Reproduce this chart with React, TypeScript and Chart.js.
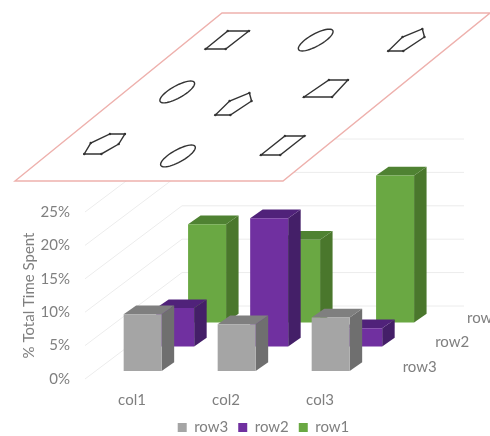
import React, { useEffect, useRef } from "react";
import { Chart, registerables } from "chart.js";

Chart.register(...registerables);

const columns = ["col1", "col2", "col3"];
const row3Values = [8.5, 7, 8];
const row2Values = [5.75, 19.2, 2.75];
const row1Values = [14.7, 12.4, 22];
const rowNames = ["row3", "row2", "row1"];
const rowDepths = [0.11, 0.445, 0.774];

const frontColors = ["#a5a5a5", "#7030a0", "#6aa843"];
const topColors = ["#7f7f7f", "#50227a", "#4f8232"];
const sideColors = ["#6f6f6f", "#441f68", "#4a772c"];

const TEXT = "#7f7f7f";
const FONT = "Lato, 'Open Sans', sans-serif";
const WALL_DX = 97;
const WALL_DY = 73;
const BOX_DX = 12.5;
const BOX_DY = 8.7;

// Sheet floating above the chart: corners, then glyphs in sheet units (u along, v up).
const sheetBL = [15, 181];
const sheetBR = [283, 181];
const sheetTL = [222, 13];

const glyphKinds = ["quad", "ring", "arrow", "ring", "arrow", "wide", "hex", "ring", "quad2"];
const glyphU = [0.143, 0.474, 0.82, 0.196, 0.469, 0.745, 0.16, 0.493, 0.835];
const glyphV = [0.84, 0.839, 0.83, 0.53, 0.449, 0.55, 0.22, 0.149, 0.21];

const outlines: Record<string, number[][]> = {
  quad: [[-0.039, -0.054], [0.036, -0.054], [0.04, 0.053], [-0.039, 0.053]],
  quad2: [[-0.037, -0.055], [0.035, -0.055], [0.038, 0.058], [-0.035, 0.058]],
  wide: [[-0.053, -0.05], [0.052, -0.05], [0.033, 0.051], [-0.038, 0.051]],
  arrow: [[-0.025, -0.056], [0.031, -0.056], [0.046, 0.027], [0.001, 0.075], [-0.036, 0.027]],
  hex: [[-0.026, -0.059], [0.038, -0.059], [0.057, 0], [0.034, 0.06], [-0.022, 0.06], [-0.052, 0.006]],
};

const onSheet = (u: number, v: number): [number, number] => [
  sheetBL[0] + u * (sheetBR[0] - sheetBL[0]) + v * (sheetTL[0] - sheetBL[0]),
  sheetBL[1] + v * (sheetTL[1] - sheetBL[1]),
];

const fillPath = (ctx: CanvasRenderingContext2D, pts: number[][], color: string) => {
  ctx.beginPath();
  pts.forEach(([x, y], i) => (i ? ctx.lineTo(x, y) : ctx.moveTo(x, y)));
  ctx.closePath();
  ctx.fillStyle = color;
  ctx.fill();
};

const scene3d = {
  id: "scene3d",
  afterLayout(chart: any) {
    // Legend sits right of the canvas centre, low under the column labels.
    chart.legend.left = 160;
    chart.legend.top -= 8;
  },
  beforeDatasetsDraw(chart: any) {
    const { ctx, scales } = chart;
    const { x, y } = scales;
    ctx.save();
    ctx.strokeStyle = "#ececec";
    ctx.lineWidth = 1;
    y.ticks.forEach((t: any) => {
      const py = y.getPixelForValue(t.value);
      ctx.beginPath();
      ctx.moveTo(x.left, py);
      ctx.lineTo(x.left + WALL_DX, py - WALL_DY);
      ctx.lineTo(x.right + WALL_DX, py - WALL_DY);
      ctx.stroke();
    });
    ctx.restore();
  },
  beforeDatasetDraw(chart: any, args: any) {
    const { ctx } = chart;
    const i = args.index;
    const dx = rowDepths[i] * WALL_DX;
    const dy = rowDepths[i] * WALL_DY;
    args.meta.data.forEach((bar: any) => {
      const l = bar.x - bar.width / 2 + dx;
      const r = bar.x + bar.width / 2 + dx;
      const t = bar.y - dy;
      const b = bar.base - dy;
      fillPath(ctx, [[r, t], [r + BOX_DX, t - BOX_DY], [r + BOX_DX, b - BOX_DY], [r, b]], sideColors[i]);
      fillPath(ctx, [[l, t], [l + BOX_DX, t - BOX_DY], [r + BOX_DX, t - BOX_DY], [r, t]], topColors[i]);
      fillPath(ctx, [[l, t], [r, t], [r, b], [l, b]], frontColors[i]);
    });
    return false;
  },
  afterDraw(chart: any) {
    const { ctx, scales } = chart;
    const { x, y } = scales;
    ctx.save();

    // Depth-axis labels along the right side of the floor.
    ctx.font = `15px ${FONT}`;
    ctx.fillStyle = TEXT;
    ctx.textAlign = "left";
    ctx.textBaseline = "middle";
    rowNames.forEach((name, i) => {
      ctx.fillText(
        name,
        x.right + rowDepths[i] * WALL_DX + 25,
        y.getPixelForValue(0) - rowDepths[i] * WALL_DY - 4,
      );
    });

    // Sheet with its array of outlined glyphs.
    const corners = [onSheet(0, 0), onSheet(1, 0), onSheet(1, 1), onSheet(0, 1)];
    fillPath(ctx, corners, "#ffffff");
    ctx.strokeStyle = "#eeb1ad";
    ctx.lineWidth = 1.4;
    ctx.stroke();

    ctx.strokeStyle = "#333333";
    ctx.fillStyle = "#333333";
    ctx.lineWidth = 1.4;
    glyphKinds.forEach((kind, i) => {
      ctx.beginPath();
      if (kind === "ring") {
        for (let a = 0; a <= 48; a++) {
          const th = (a / 48) * Math.PI * 2;
          const [px, py] = onSheet(glyphU[i] + 0.041 * Math.cos(th), glyphV[i] + 0.065 * Math.sin(th));
          a ? ctx.lineTo(px, py) : ctx.moveTo(px, py);
        }
        ctx.closePath();
        ctx.stroke();
        return;
      }
      const pts = outlines[kind].map(([du, dv]) => onSheet(glyphU[i] + du, glyphV[i] + dv));
      pts.forEach(([px, py], k) => (k ? ctx.lineTo(px, py) : ctx.moveTo(px, py)));
      ctx.closePath();
      ctx.stroke();
      pts.forEach(([px, py]) => {
        ctx.beginPath();
        ctx.arc(px, py, 1.2, 0, Math.PI * 2);
        ctx.fill();
      });
    });
    ctx.restore();
  },
};

export default function App() {
  const ref = useRef<HTMLCanvasElement>(null);

  useEffect(() => {
    const seriesValues = [row3Values, row2Values, row1Values];
    const chart = new Chart(ref.current as HTMLCanvasElement, {
      type: "bar",
      data: {
        labels: columns,
        datasets: rowNames.map((name, i) => ({
          label: name,
          data: seriesValues[i],
          backgroundColor: frontColors[i],
          borderWidth: 0,
          grouped: false,
          barThickness: 38,
        })),
      },
      options: {
        responsive: false,
        animation: false,
        layout: { padding: { top: 212, right: 123, left: 0, bottom: -17 } },
        plugins: {
          tooltip: { enabled: false },
          legend: {
            position: "bottom",
            labels: {
              boxWidth: 9,
              boxHeight: 9,
              padding: 10,
              color: TEXT,
              font: { family: FONT, size: 15 },
            },
          },
        },
        scales: {
          x: {
            grid: { display: false, drawTicks: false },
            border: { display: false },
            ticks: { color: TEXT, font: { family: FONT, size: 15 }, padding: 12 },
            afterFit: (s: any) => {
              s.height = 39;
            },
          },
          y: {
            min: 0,
            max: 25,
            grid: { display: false, drawTicks: false },
            border: { display: false },
            ticks: {
              stepSize: 5,
              color: TEXT,
              padding: 15,
              font: { family: FONT, size: 15 },
              callback: (v: any) => `${v}%`,
            },
            title: {
              display: true,
              text: "% Total Time Spent",
              color: TEXT,
              font: { family: FONT, size: 15 },
              padding: { top: 20, bottom: 0 },
            },
            afterFit: (s: any) => {
              s.width = 85;
            },
          },
        },
      },
      plugins: [scene3d],
    } as any);
    return () => chart.destroy();
  }, []);

  return (
    <div style={{ position: "absolute", left: 0, top: 0, width: 490, height: 436, background: "#fff" }}>
      <canvas ref={ref} width={490} height={436} style={{ display: "block" }} />
    </div>
  );
}
